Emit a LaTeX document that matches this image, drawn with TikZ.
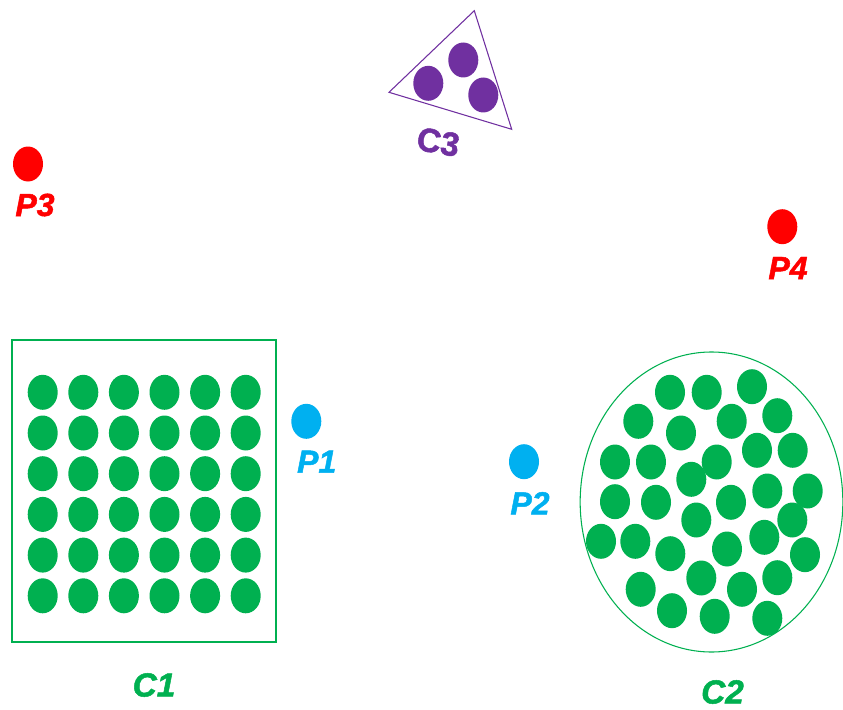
\documentclass[tikz,border=0pt]{standalone}
\usepackage{fontspec}
\setmainfont{Liberation Sans}
\newfontfamily\hvbi[FakeBold=1.5]{Liberation Sans Bold Italic}
\newfontfamily\hvb[FakeBold=1.5]{Liberation Sans Bold}
\definecolor{cgreen}{HTML}{00B050}
\definecolor{cblue}{HTML}{00B0F0}
\definecolor{cred}{HTML}{FF0000}
\definecolor{cpurple}{HTML}{7030A0}
\usetikzlibrary{shapes.geometric}
\tikzset{
  dotg/.style={fill=cgreen, draw=none, ellipse, inner sep=0pt, minimum width=22.5pt, minimum height=26.25pt},
  pdot/.style={draw=none, inner sep=0pt, ellipse, minimum width=22.5pt, minimum height=26.25pt},
  lbl/.style={font=\hvbi\fontsize{24}{24}\selectfont, inner sep=0pt},
  clbl/.style={font=\hvbi\fontsize{25}{25}\selectfont, inner sep=0pt},
}
\begin{document}
\begin{tikzpicture}[x=0.75pt,y=-0.75pt]
\useasboundingbox (0,0) rectangle (843,710);
% C1
\node[draw=cgreen, line width=0.8pt, minimum width=198pt, minimum height=226.5pt, inner sep=0pt] (box1) at (144,491) {};
\foreach \i in {0,...,5}{\foreach \j in {0,...,5}{
  \node[dotg] (c1d\i\j) at ({42.7+40.6*\i},{392.3+40.7*\j}) {};
}}
\node[clbl, text=cgreen] (C1) at (154,685) {C1};
% C2
\node[draw=cgreen, line width=0.8pt, ellipse, minimum width=197pt, minimum height=225pt, inner sep=0pt] (ell2) at (711.5,502) {};
\foreach \x/\y [count=\k] in {670/392.3,706.7/392.3,752/386.7,638.3/421.3,681/433,731.7/421.3,777.3/415.7,615/462,651/462,716.7/462,757/450.3,792.7/450.3,691.3/479.3,615/501.7,656/502.3,731/502.3,767.3/491,807.7/491,696.3/520,792.3/520,601/541.3,635.3/541.3,670.3/553.7,727/549,764.3/537.3,805/554.7,701.3/578,640.7/589.3,742/589.3,777.3/577.7,672/610.7,714.7/616.3,767.3/618.3}{
  \node[dotg] (c2d\k) at (\x,\y) {};
}
\node[clbl, text=cgreen] (C2) at (722.5,692) {C2};
% C3
\coordinate (t1) at (474.3,10.7);
\coordinate (t2) at (389,92.3);
\coordinate (t3) at (511.7,129.3);
\draw[cpurple, line width=0.8pt] (t1) -- (t2) -- (t3) -- cycle;
\node[pdot, fill=cpurple] (c3a) at (428.3,83.3) {};
\node[pdot, fill=cpurple] (c3b) at (463.3,60) {};
\node[pdot, fill=cpurple] (c3c) at (483.3,95) {};
\node[font=\hvb\fontsize{25}{25}\selectfont, inner sep=0pt, text=cpurple, rotate=-10] (C3) at (438.3,142) {C3};
% points
\node[pdot, fill=cblue] (p1) at (306.3,421.3) {};
\node[lbl, text=cblue] (P1l) at (316.7,461.7) {P1};
\node[pdot, fill=cblue] (p2) at (524,461.7) {};
\node[lbl, text=cblue] (P2l) at (530,503.3) {P2};
\node[pdot, fill=cred] (p3) at (28,164) {};
\node[lbl, text=cred] (P3l) at (35,205) {P3};
\node[pdot, fill=cred] (p4) at (782.3,226.7) {};
\node[lbl, text=cred] (P4l) at (788,268) {P4};
\end{tikzpicture}
\end{document}
